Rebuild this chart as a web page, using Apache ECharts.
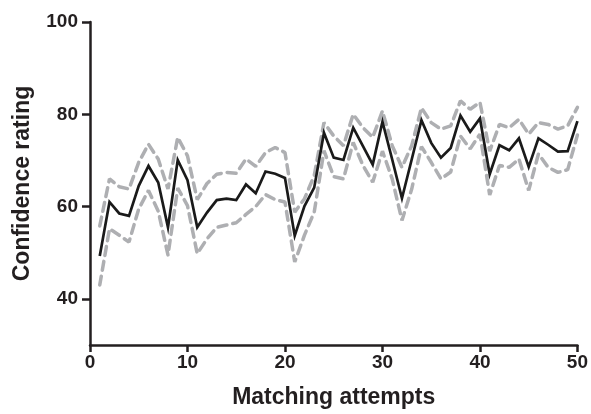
<!DOCTYPE html>
<html lang="en">
<head>
    <meta charset="UTF-8">
    <title>Confidence rating</title>
    <script src="https://cdn.jsdelivr.net/npm/echarts@6/dist/echarts.min.js"></script>
</head>
<style>
    html, body {
        margin: 0;
        height: 100%;
        background: #fff;
    }
</style>
<body>
<div id="main" style="width: 591px;height:414px"></div>
<script type="text/javascript">
    // matching attempt 1..50
    var attempts = [];
    for (var i = 1; i <= 50; i++) attempts.push(i);

    var meanRating = [49.3, 61, 58.5, 58, 64.5, 68.8, 65.2, 55.5, 70.1, 65.7,
        55.5, 58.7, 61.4, 61.7, 61.4, 64.8, 62.9, 67.6, 67.1, 66.2,
        53.7, 60.1, 64.1, 76, 70.6, 70.1, 77.1, 73.1, 69.1, 78.4,
        70.2, 61.8, 70.2, 78.7, 73.8, 70.6, 72.7, 79.7, 76.2, 79.1,
        67, 73.3, 72.2, 74.8, 68.6, 74.8, 73.4, 71.9, 72, 78.5];

    var upperRating = [55.8, 66, 64.3, 63.8, 69.6, 73.5, 70.3, 63.8, 75, 71,
        61.5, 65, 67, 67.4, 67.2, 70.3, 68.7, 71.7, 72.8, 71.7,
        58.8, 61.7, 66.7, 78.2, 75.3, 73.2, 80, 77.1, 75, 80.7,
        73.2, 68.5, 73.2, 81.4, 78.2, 76.8, 77.5, 82.9, 81.1, 82.6,
        72, 77.8, 77.1, 78.9, 75.7, 78.2, 77.8, 76.8, 77.5, 81.5];

    var lowerRating = [43, 55.2, 53.8, 52.3, 59.5, 63.5, 59, 49.5, 64, 60.2,
        49.8, 53, 55.5, 56, 56.5, 58.3, 60, 62.6, 61.5, 61,
        48, 53.8, 58.8, 72.1, 66.5, 66, 73.9, 68.9, 65.3, 72,
        66, 57, 63.8, 73, 69.6, 66, 67.5, 75.3, 72.5, 75.7,
        62.5, 68.9, 68.5, 70.3, 63.5, 71.4, 68.5, 67.4, 68, 75.5];

    var xTicks = [0, 10, 20, 30, 40, 50];
    var yTicks = [40, 60, 80, 100];

    function pairs(ys) {
        return attempts.map(function (x, k) { return [x, ys[k]]; });
    }

    var axisFont = {fontFamily: 'Liberation Sans', fontWeight: 'bold', fontSize: 19, color: '#231f20'};
    var nameFont = {fontFamily: 'Liberation Sans', fontWeight: 'bold', fontSize: 23, color: '#231f20'};
    var axisLine = {show: true, lineStyle: {color: '#231f20', width: 2.5}};

    var dashStyle = {color: '#aeafb2', width: 3.5, type: [9, 6], cap: 'round'};

    var myChart = echarts.init(document.getElementById('main'));
    var option = {
        animation: false,
        grid: {left: 90, right: 13, top: 22, bottom: 67},
        xAxis: {
            type: 'value', min: 0, max: 50, interval: 10,
            name: 'Matching attempts', nameLocation: 'middle', nameGap: 41,
            nameTextStyle: nameFont,
            axisLine: axisLine,
            axisTick: {show: true, length: 7, lineStyle: {color: '#231f20', width: 2.5}, customValues: xTicks},
            axisLabel: Object.assign({margin: 8, customValues: xTicks}, axisFont),
            splitLine: {show: false}
        },
        yAxis: {
            type: 'value', min: 30, max: 100, interval: 10,
            name: 'Confidence rating', nameLocation: 'middle', nameGap: 56,
            nameTextStyle: nameFont,
            axisLine: axisLine,
            axisTick: {show: true, length: 8, lineStyle: {color: '#231f20', width: 2.5}, customValues: yTicks},
            axisLabel: Object.assign({margin: 12, customValues: yTicks}, axisFont),
            splitLine: {show: false}
        },
        series: [
            {type: 'line', data: pairs(upperRating), symbol: 'none', lineStyle: dashStyle},
            {type: 'line', data: pairs(lowerRating), symbol: 'none', lineStyle: dashStyle},
            {type: 'line', data: pairs(meanRating), symbol: 'none',
                lineStyle: {color: '#1a1a1a', width: 2.7, join: 'miter'}}
        ]
    };
    myChart.setOption(option);
</script>
</body>
</html>
